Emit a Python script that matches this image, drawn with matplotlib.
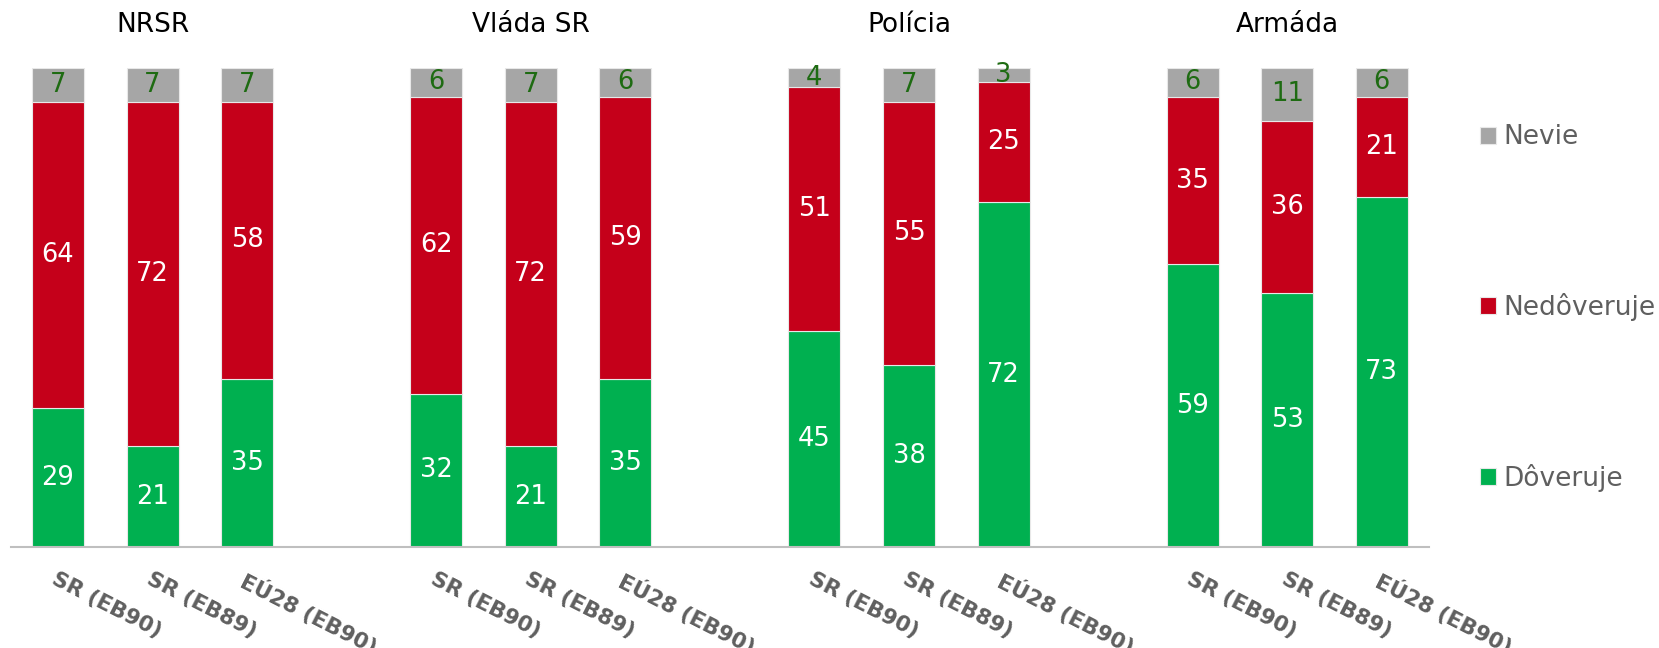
import matplotlib
matplotlib.use("Agg")
import matplotlib.pyplot as plt
import numpy as np

groups = ["NRSR", "Vláda SR", "Polícia", "Armáda"]
waves = ["SR (EB90)", "SR (EB89)", "EÚ28 (EB90)"]
doveruje = [29, 21, 35, 32, 21, 35, 45, 38, 72, 59, 53, 73]
nedoveruje = [64, 72, 58, 62, 72, 59, 51, 55, 25, 35, 36, 21]
nevie = [7, 7, 7, 6, 7, 6, 4, 7, 3, 6, 11, 6]

C_GREEN, C_RED, C_GRAY = "#00B050", "#C5001A", "#A6A6A6"

plt.rcParams["font.family"] = ["DejaVu Sans"]
fig = plt.figure(figsize=(16.59, 6.48), dpi=100)
ax = fig.add_axes([10.7 / 1659, 101 / 648, (1429 - 10.7) / 1659, 479 / 648])

x = np.array([g * 4 + i for g in range(len(groups)) for i in range(len(waves))])
d = np.array(doveruje)
n = np.array(nedoveruje)
k = np.array(nevie)
w = 0.55
kw = dict(width=w, edgecolor="#e8e8e8", linewidth=0.8)
b1 = ax.bar(x, d, color=C_GREEN, label="Dôveruje", **kw)
b2 = ax.bar(x, n, bottom=d, color=C_RED, label="Nedôveruje", **kw)
b3 = ax.bar(x, k, bottom=d + n, color=C_GRAY, label="Nevie", **kw)

fs = 18.5
for xi, a, b, c in zip(x, d, n, k):
    ax.text(xi, a / 2, str(a), ha="center", va="center", color="white", fontsize=fs)
    ax.text(xi, a + b / 2, str(b), ha="center", va="center", color="white", fontsize=fs)
    ax.text(xi, a + b + c / 2, str(c), ha="center", va="center", color="#1E6B12", fontsize=fs)

for g, name in enumerate(groups):
    ax.text(g * 4 + 1, 109, name, ha="center", va="center", fontsize=19, color="black", clip_on=False)

ax.set_xlim(-0.5, 14.5)
ax.set_ylim(0, 100)
ax.set_xticks(x)
ax.set_xticklabels(waves * len(groups), rotation=-27, ha="left", rotation_mode="anchor",
                   fontsize=15.5, fontweight="bold", color="#5f5f5f")
ax.tick_params(axis="x", length=0, pad=16)
ax.set_yticks([])
for s in ["top", "right", "left"]:
    ax.spines[s].set_visible(False)
ax.spines["bottom"].set_color("#bfbfbf")
ax.spines["bottom"].set_linewidth(1.5)

leg = fig.legend(handles=[b3, b2, b1], loc="center left", bbox_to_anchor=(1480 / 1659, 1 - 308 / 648),
                 frameon=False, fontsize=19, handlelength=0.6, handleheight=0.6, handletextpad=0.3,
                 labelspacing=5.4, borderpad=0, borderaxespad=0)
for t in leg.get_texts():
    t.set_color("#5f5f5f")

fig.savefig("out.png", dpi=100)
